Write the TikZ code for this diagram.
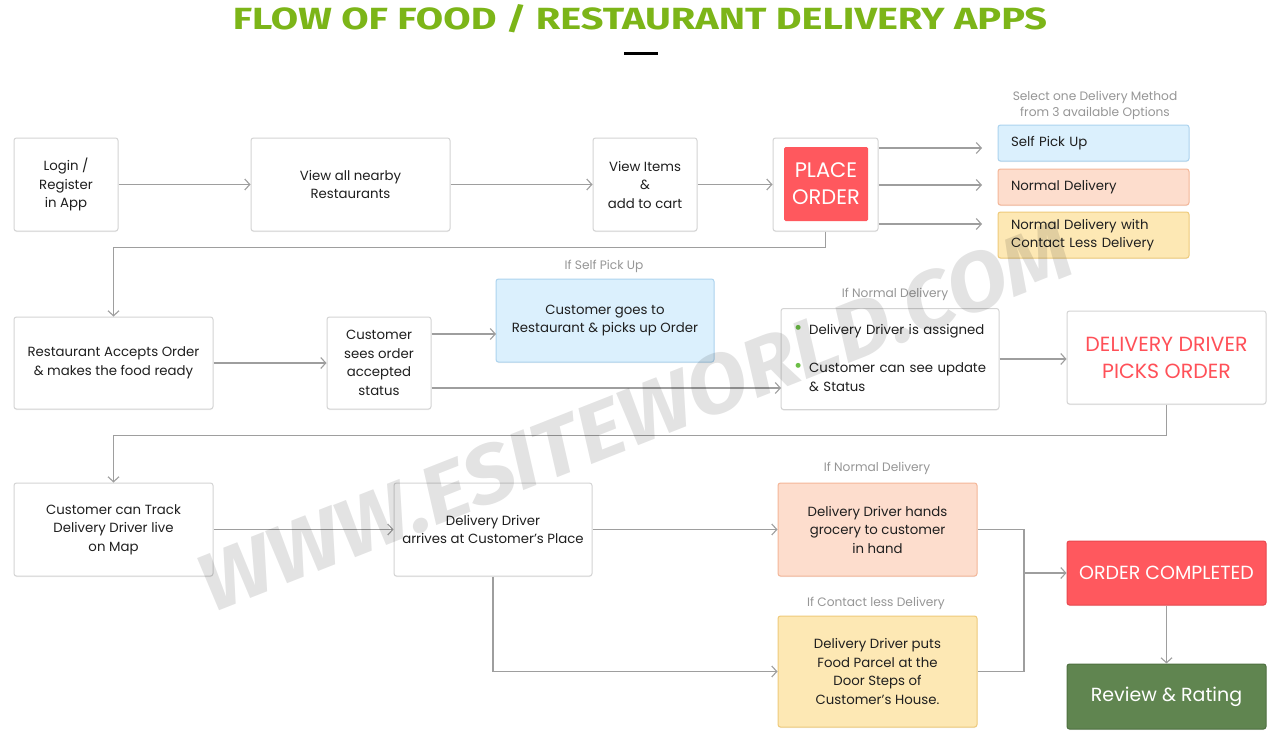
\documentclass[tikz,border=0pt]{standalone}
\usepackage{fontspec}
\setmainfont{Poppins}
\newfontfamily\headfont{Fira Sans}
\usetikzlibrary{arrows.meta,shadows}

\definecolor{titlegreen}{RGB}{124,181,24}
\definecolor{boxline}{RGB}{212,212,212}
\definecolor{linegray}{RGB}{158,158,158}
\definecolor{notegray}{RGB}{150,150,150}
\definecolor{bluefill}{RGB}{219,240,253}
\definecolor{blueline}{RGB}{172,211,238}
\definecolor{peachfill}{RGB}{253,221,205}
\definecolor{peachline}{RGB}{244,182,152}
\definecolor{yellowfill}{RGB}{253,232,180}
\definecolor{yellowline}{RGB}{238,202,122}
\definecolor{redfill}{RGB}{255,88,94}
\definecolor{redline}{RGB}{232,72,78}
\definecolor{redtext}{RGB}{255,80,88}
\definecolor{greenfill}{RGB}{96,133,80}
\definecolor{greenline}{RGB}{78,112,64}
\definecolor{dotgreen}{RGB}{108,190,70}

\tikzset{
    stepbox/.style={draw=boxline, fill=white, line width=1pt, rounded corners=2.5pt,
        align=center, inner sep=0pt, text=black!88,
        font=\fontsize{13.3}{18.5}\selectfont,
        drop shadow={shadow xshift=0pt, shadow yshift=-1pt, opacity=0.12}},
    optbox/.style={stepbox, align=left, text width=165pt, minimum width=191pt},
    bigtext/.style={font=\fontsize{19}{27}\selectfont},
    note/.style={text=notegray, align=center, inner sep=0pt,
        font=\fontsize{12.2}{16}\selectfont},
    arr/.style={draw=linegray, line width=1.1pt, -{Straight Barb[length=5pt,width=11pt]}},
    link/.style={draw=linegray, line width=1.1pt},
}
\newcommand{\greendot}{\textcolor{dotgreen}{\scalebox{1.5}{\textbullet}}}

\begin{document}
\begin{tikzpicture}[x=1pt, y=-1pt]
    \fill[white] (0,0) rectangle (1280,744);
    \useasboundingbox (0,0) rectangle (1280,744);

    % Heading
    \node[text=titlegreen, inner sep=0pt] (title) at (640,18.5)
        {\resizebox{814pt}{25pt}{\headfont\bfseries FLOW OF FOOD / RESTAURANT DELIVERY APPS}};
    \node[fill=black, minimum width=34pt, minimum height=3pt, inner sep=0pt] (bar) at (641,53.5) {};

    % First row
    \node[stepbox, minimum width=104pt, minimum height=93pt] (login) at (66,184.5) {Login /\\Register\\in App};
    \node[stepbox, minimum width=199pt, minimum height=93pt] (nearby) at (350.5,184.5) {View all nearby\\Restaurants};
    \node[stepbox, minimum width=104pt, minimum height=93pt] (items) at (645,184.5) {View Items\\\&\\add to cart};
    \node[stepbox, minimum width=105pt, minimum height=93pt] (place) at (825.5,184.5) {};
    \node[fill=redfill, rounded corners=1.5pt, minimum width=84pt, minimum height=74pt,
        text=white, font=\fontsize{21}{27}\selectfont, align=center, inner sep=0pt] (placered) at (826,184) {PLACE\\ORDER};

    % Delivery methods
    \node[note] (pickcap) at (1095,105) {Select one Delivery Method\\from 3 available Options};
    \node[optbox, fill=bluefill, draw=blueline, minimum height=36pt] (self) at (1093.5,143) {Self Pick Up};
    \node[optbox, fill=peachfill, draw=peachline, minimum height=36pt] (normal) at (1093.5,187) {Normal Delivery};
    \node[optbox, fill=yellowfill, draw=yellowline, minimum height=46pt] (contact) at (1093.5,235)
        {Normal Delivery with\\Contact Less Delivery};

    % Second row
    \node[stepbox, minimum width=199pt, minimum height=92pt] (accept) at (113.5,363)
        {Restaurant Accepts Order\\\& makes the food ready};
    \node[stepbox, minimum width=104pt, minimum height=92pt] (sees) at (379,363)
        {Customer\\sees order\\accepted\\status};
    \node[note] (selfcap) at (604,266) {If Self Pick Up};
    \node[stepbox, fill=bluefill, draw=blueline, minimum width=218pt, minimum height=83pt] (goes) at (605,320.5)
        {Customer goes to\\Restaurant \& picks up Order};
    \node[note] (normcap) at (895,294) {If Normal Delivery};
    \node[stepbox, align=left, text width=192pt, minimum width=218pt, minimum height=101pt] (normdel) at (890,359)
        {\begin{tabular}{@{}l@{\hspace{7pt}}l@{}}
            \greendot & Delivery Driver is assigned\\[20pt]
            \greendot & Customer can see update\\
             & \& Status
        \end{tabular}};
    \node[stepbox, minimum width=199pt, minimum height=93pt, text=redtext, font=\fontsize{20.5}{27}\selectfont] (picks) at (1166.5,357.5)
        {DELIVERY DRIVER\\PICKS ORDER};

    % Third row
    \node[stepbox, minimum width=199pt, minimum height=93pt] (track) at (113.5,529.5)
        {Customer can Track\\Delivery Driver live\\on Map};
    \node[stepbox, minimum width=198pt, minimum height=93pt] (arrives) at (493,529.5)
        {Delivery Driver\\arrives at Customer’s Place};
    \node[note] (handcap) at (877,468) {If Normal Delivery};
    \node[stepbox, fill=peachfill, draw=peachline, minimum width=199pt, minimum height=93pt] (hands) at (877.5,529.5)
        {Delivery Driver hands\\grocery to customer\\in hand};
    \node[note] (putcap) at (876,603) {If Contact less Delivery};
    \node[stepbox, fill=yellowfill, draw=yellowline, minimum width=199pt, minimum height=111pt] (puts) at (877.5,671.5)
        {Delivery Driver puts\\Food Parcel at the\\Door Steps of\\Customer’s House.};
    \node[stepbox, fill=redfill, draw=redline, minimum width=199pt, minimum height=64pt, text=white, bigtext] (done) at (1166.5,573)
        {ORDER COMPLETED};
    \node[stepbox, fill=greenfill, draw=greenline, minimum width=199pt, minimum height=65pt, text=white, bigtext] (review) at (1166.5,696.5)
        {Review \& Rating};

    % Connectors
    \draw[arr] (login) -- (nearby);
    \draw[arr] (nearby) -- (items);
    \draw[arr] (items) -- (place);
    \coordinate (m1) at (982,148);
    \coordinate (m2) at (982,185);
    \coordinate (m3) at (982,224);
    \draw[arr] (place.east |- m1) -- (m1);
    \draw[arr] (place.east |- m2) -- (m2);
    \draw[arr] (place.east |- m3) -- (m3);
    \draw[arr] (place.south) -- ++(0,16) -| (accept.north);

    \draw[arr] (accept) -- (sees);
    \coordinate (g1) at (496,334);
    \coordinate (n1) at (781,388);
    \draw[arr] (sees.east |- g1) -- (g1);
    \draw[arr] (sees.east |- n1) -- (n1);
    \draw[arr] (normdel.east) -- (normdel.east -| picks.west);
    \draw[arr] (picks.south) -- ++(0,31) -| (track.north);

    \draw[arr] (track) -- (arrives);
    \draw[arr] (arrives) -- (hands);
    \draw[arr] (arrives.south) |- (puts.west);
    \coordinate (join) at (1024,573);
    \draw[link] (hands.east) -| (join);
    \draw[link] (puts.east) -| (join);
    \draw[arr] (join) -- (done.west);
    \draw[arr] (done) -- (review);

    % Watermark
    \node[rotate=21.5, anchor=base west, text=black, text opacity=0.11, inner sep=0pt] (mark) at (212,614)
        {\resizebox{930pt}{58pt}{\headfont\bfseries\itshape WWW.ESITEWORLD.COM}};
\end{tikzpicture}
\end{document}
